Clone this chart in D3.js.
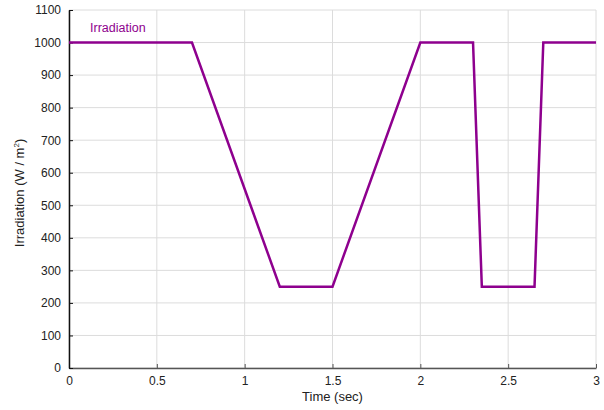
<!DOCTYPE html>
<html>
<head>
<meta charset="utf-8">
<script src="https://cdn.jsdelivr.net/npm/d3@7/dist/d3.min.js"></script>
<style>
  html, body { margin: 0; padding: 0; background: #fff; }
  svg { display: block; font-family: "Liberation Sans", Arial, sans-serif; }
</style>
</head>
<body>
<svg id="chart" width="604" height="410"></svg>
<script>
// Irradiation profile (time in seconds, irradiance in W/m²)
const timeSec = [0, 0.7, 1.2, 1.5, 2.0, 2.3, 2.35, 2.65, 2.7, 3.0];
const irradiance = [1000, 1000, 250, 250, 1000, 1000, 250, 250, 1000, 1000];
const xTicks = [0, 0.5, 1, 1.5, 2, 2.5, 3];
const xTickLabels = ["0", "0.5", "1", "1.5", "2", "2.5", "3"];
const yTicks = [0, 100, 200, 300, 400, 500, 600, 700, 800, 900, 1000, 1100];
const seriesName = "Irradiation";

const svg = d3.select("#chart");
const m = { left: 69, right: 596, top: 10, bottom: 368 };

const x = d3.scaleLinear().domain([0, 3]).range([m.left, m.right]);
const y = d3.scaleLinear().domain([0, 1100]).range([m.bottom, m.top]);

// grid
const grid = svg.append("g").attr("stroke", "#dcdcdc").attr("stroke-width", 1);
grid.selectAll("line.gx").data(xTicks).enter().append("line")
  .attr("x1", d => x(d)).attr("x2", d => x(d))
  .attr("y1", m.top).attr("y2", m.bottom);
grid.selectAll("line.gy").data(yTicks).enter().append("line")
  .attr("x1", m.left).attr("x2", m.right)
  .attr("y1", d => y(d)).attr("y2", d => y(d));

// axes
const xAxis = d3.axisBottom(x).tickValues(xTicks)
  .tickFormat((d, i) => xTickLabels[i]).tickSizeInner(-4).tickSizeOuter(0).tickPadding(8);
const gx = svg.append("g").attr("transform", `translate(0,${m.bottom})`).call(xAxis);
gx.select(".domain").attr("stroke", "#555").attr("stroke-width", 1.5);
gx.selectAll(".tick line").attr("stroke", "#555");
gx.selectAll("text").attr("font-size", 12).attr("fill", "#222");

const yAxis = d3.axisLeft(y).tickValues(yTicks).tickFormat(d3.format("d"))
  .tickSizeInner(-4).tickSizeOuter(0).tickPadding(8);
const gy = svg.append("g").attr("transform", `translate(${m.left},0)`).call(yAxis);
gy.select(".domain").attr("stroke", "#111").attr("stroke-width", 1.5);
gy.selectAll(".tick line").attr("stroke", "#111");
gy.selectAll("text").attr("font-size", 12).attr("fill", "#222");

// series line
const line = d3.line().x((d, i) => x(timeSec[i])).y(d => y(d));
svg.append("path")
  .datum(irradiance)
  .attr("d", line)
  .attr("fill", "none")
  .attr("stroke", "#8e008e")
  .attr("stroke-width", 2.5)
  .attr("stroke-linejoin", "miter");

// series label
svg.append("text")
  .attr("x", 90).attr("y", 32)
  .attr("font-size", 12.5).attr("fill", "#8e008e")
  .text(seriesName);

// axis titles
svg.append("text")
  .attr("x", (m.left + m.right) / 2).attr("y", 401)
  .attr("text-anchor", "middle").attr("font-size", 13).attr("fill", "#222")
  .text("Time (sec)");

const yl = svg.append("text")
  .attr("transform", `translate(24,${(m.top + m.bottom) / 2 + 4}) rotate(-90)`)
  .attr("text-anchor", "middle").attr("font-size", 13).attr("fill", "#222");
yl.append("tspan").text("Irradiation (W / m");
yl.append("tspan").attr("font-size", 8).attr("dy", -5).text("2");
yl.append("tspan").attr("dy", 5).text(")");
</script>
</body>
</html>
